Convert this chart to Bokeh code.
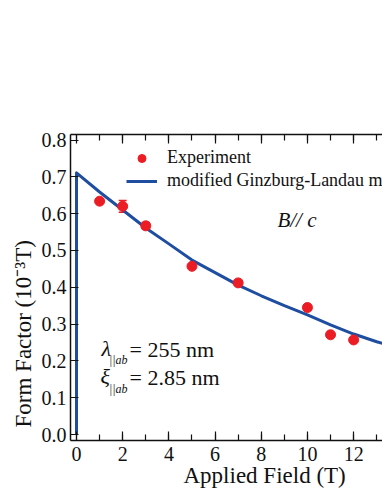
from bokeh.plotting import figure
from bokeh.models import (ColumnDataSource, Whisker, Legend, LegendItem, Label, Title,
                          LinearAxis, SingleIntervalTicker, FixedTicker, PrintfTickFormatter,
                          CustomJSTickFormatter)
from bokeh.embed import file_html
from bokeh.resources import INLINE

# ---- data ----
exp_field = [1, 2, 3, 5, 7, 10, 11, 12]
exp_form = [0.634, 0.620, 0.567, 0.457, 0.412, 0.345, 0.271, 0.257]
exp_err = [0.0, 0.016, 0.009, 0.0, 0.0, 0.0, 0.0, 0.0]

fit_field = [0, 0, 1, 2, 3, 4, 5, 6, 7, 8, 9, 10, 11, 12, 13, 13.5]
fit_form = [0.0, 0.711, 0.659, 0.610, 0.561, 0.518, 0.474, 0.440, 0.406,
            0.377, 0.350, 0.325, 0.298, 0.273, 0.252, 0.243]

y_ticks = [0.0, 0.1, 0.2, 0.3, 0.4, 0.5, 0.6, 0.7, 0.8]

FONT = "Liberation Serif"
RED = "#ec1c24"
BLUE = "#1f4ea0"
INK = "#111111"

p = figure(width=382, height=494, output_backend="svg", toolbar_location=None,
           x_range=(-0.26, 13.25), y_range=(-0.0163, 0.8152),
           min_border_left=70, min_border_right=0, min_border_top=134,
           min_border_bottom=54)
p.outline_line_color = None
p.xgrid.visible = False
p.ygrid.visible = False

# axes
p.xaxis.ticker = SingleIntervalTicker(interval=2, num_minor_ticks=2)
p.yaxis.ticker = FixedTicker(ticks=y_ticks)
p.yaxis.formatter = PrintfTickFormatter(format="%.1f")
for ax in p.xaxis + p.yaxis:
    ax.axis_line_width = 1.5
    ax.axis_line_color = INK
    ax.major_tick_line_color = INK
    ax.minor_tick_line_color = INK
    ax.major_tick_line_width = 1.2
    ax.minor_tick_line_width = 1.2
    ax.major_tick_out = 0
    ax.minor_tick_out = 0
    ax.major_label_text_font = FONT
    ax.major_label_text_font_size = "20px"
    ax.major_label_text_color = INK
p.xaxis.major_tick_in = 9
p.xaxis.minor_tick_in = 6
p.xaxis.major_label_standoff = 6
p.yaxis.major_tick_in = 8
p.yaxis.minor_tick_in = 0
p.yaxis.major_label_standoff = 4

top = LinearAxis(ticker=SingleIntervalTicker(interval=2, num_minor_ticks=2),
                 formatter=CustomJSTickFormatter(code="return ''"),
                 major_label_standoff=0)
top.axis_line_width = 1.5
top.axis_line_color = INK
top.major_tick_line_color = INK
top.minor_tick_line_color = INK
top.major_tick_in = 9
top.minor_tick_in = 6
top.major_tick_out = 0
top.minor_tick_out = 0
top.major_tick_line_width = 1.2
top.minor_tick_line_width = 1.2
p.add_layout(top, "above")

# axis titles
xt = Title(text="Applied Field (T)", align="left", offset=113, standoff=-6,
           text_font=FONT, text_font_size="23px", text_font_style="normal",
           text_color=INK)
p.add_layout(xt, "below")
yt = Title(text="Form Factor (10\u207b\u00b3T)", align="left", offset=13, standoff=6,
           text_font=FONT, text_font_size="23px", text_font_style="normal",
           text_color=INK)
p.add_layout(yt, "left")

# data
src = ColumnDataSource(dict(x=exp_field, y=exp_form,
                            lo=[a - e for a, e in zip(exp_form, exp_err)],
                            hi=[a + e for a, e in zip(exp_form, exp_err)]))
w = Whisker(base="x", lower="lo", upper="hi", source=src,
            line_color=RED, line_width=1.5)
for h in (w.upper_head, w.lower_head):
    h.line_color = RED
    h.size = 8
    h.line_width = 1.5
p.add_layout(w)

fit = p.line(fit_field, fit_form, line_color=BLUE, line_width=3, line_join="round")
pts = p.scatter("x", "y", source=src, size=10, fill_color=RED, line_color=RED)

legend = Legend(items=[LegendItem(label="Experiment", renderers=[pts]),
                       LegendItem(label="modified Ginzburg-Landau model", renderers=[fit])],
                location=(56, 249), padding=0, margin=0, spacing=2,
                glyph_width=31, glyph_height=20, label_height=20, label_standoff=10,
                border_line_color=None, background_fill_alpha=0,
                label_text_font=FONT, label_text_font_size="18px",
                label_text_color=INK)
p.add_layout(legend, "center")

def px_x(px):
    return (px - 76.0) / 23.1

def px_y(py):
    return (434.0 - py) / 368.0

def lab(text, x, y, size, style="normal"):
    p.add_layout(Label(x=px_x(x), y=px_y(y), text=text, text_font=FONT,
                       text_font_size=size, text_font_style=style,
                       text_align="left", text_baseline="middle",
                       text_color=INK))

lab("B// c", 277, 220, "21px", style="italic")
lab("\u03bb", 101, 348, "22px", style="italic")
lab("||ab", 108.5, 360, "12px", style="italic")
lab("= 255 nm", 129, 349, "22px")
lab("\u03be", 100, 376, "22px", style="italic")
lab("||ab", 108.5, 388, "12px", style="italic")
lab("= 2.85 nm", 129, 377, "22px")

open("out.html", "w").write(file_html(p, INLINE))
